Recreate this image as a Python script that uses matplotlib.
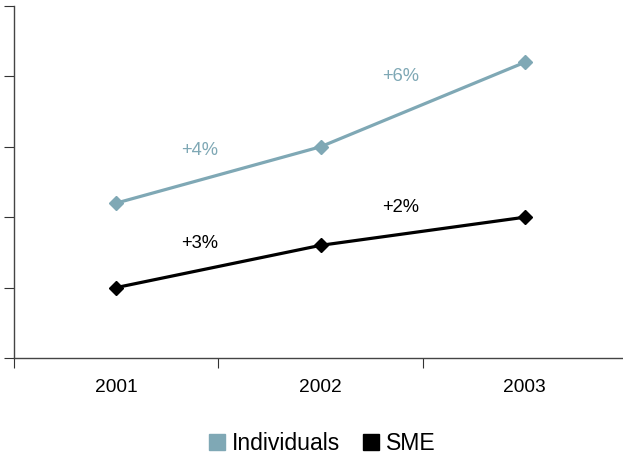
import matplotlib
matplotlib.use("Agg")
import matplotlib.pyplot as plt
from matplotlib.lines import Line2D

plt.rcParams['font.family'] = ['Liberation Sans', 'DejaVu Sans']

years = ["2001", "2002", "2003"]
individuals = [2.2, 3.0, 4.2]
sme = [1.0, 1.6, 2.0]
growth_individuals = ["+4%", "+6%"]
growth_sme = ["+3%", "+2%"]

teal = "#7FA8B5"
black = "#000000"

fig = plt.figure(figsize=(6.23, 4.58), dpi=100)
ax = fig.add_axes([14 / 623, 100 / 458, 613 / 623, 352 / 458])

x = list(range(len(years)))
ax.plot(x, individuals, color=teal, lw=2.3, marker="D", ms=7, zorder=3)
ax.plot(x, sme, color=black, lw=2.3, marker="D", ms=7, zorder=3)

# growth rates between consecutive years
lab_x = [0.41, 1.39]
ind_lab_y = [2.95, 4.0]
sme_lab_y = [1.63, 2.14]
for xi, yi, t in zip(lab_x, ind_lab_y, growth_individuals):
    ax.text(xi, yi, t, color=teal, fontsize=13.2, ha="center", va="center")
for xi, yi, t in zip(lab_x, sme_lab_y, growth_sme):
    ax.text(xi, yi, t, color=black, fontsize=13.2, ha="center", va="center")

ax.set_xlim(-0.5, 2.5)
ax.set_ylim(0, 5)

ax.set_xticks([-0.5, 0.5, 1.5, 2.5])
ax.set_xticklabels([])
ax.set_xticks(x, minor=True)
ax.set_xticklabels(years, minor=True, fontsize=13.8)
ax.tick_params(axis="x", which="major", length=7, direction="out", color="#333333")
ax.tick_params(axis="x", which="minor", length=0, pad=15)

ax.set_yticks([0, 1, 2, 3, 4, 5])
ax.set_yticklabels([])
ax.tick_params(axis="y", length=7, direction="out", color="#333333")

for side in ("top", "right"):
    ax.spines[side].set_visible(False)
for side in ("left", "bottom"):
    ax.spines[side].set_color("#444444")
    ax.spines[side].set_linewidth(1.0)

handles = [
    Line2D([], [], ls="none", marker="s", ms=11.5, color=teal, label="Individuals"),
    Line2D([], [], ls="none", marker="s", ms=11.5, color=black, label="SME"),
]
fig.legend(handles=handles, loc="center", bbox_to_anchor=(322 / 623, 1 - 444 / 458),
           ncol=2, frameon=False, fontsize=16.6, handlelength=0.7, handletextpad=0.3,
           columnspacing=1.0)

fig.savefig("out.png", dpi=100)
